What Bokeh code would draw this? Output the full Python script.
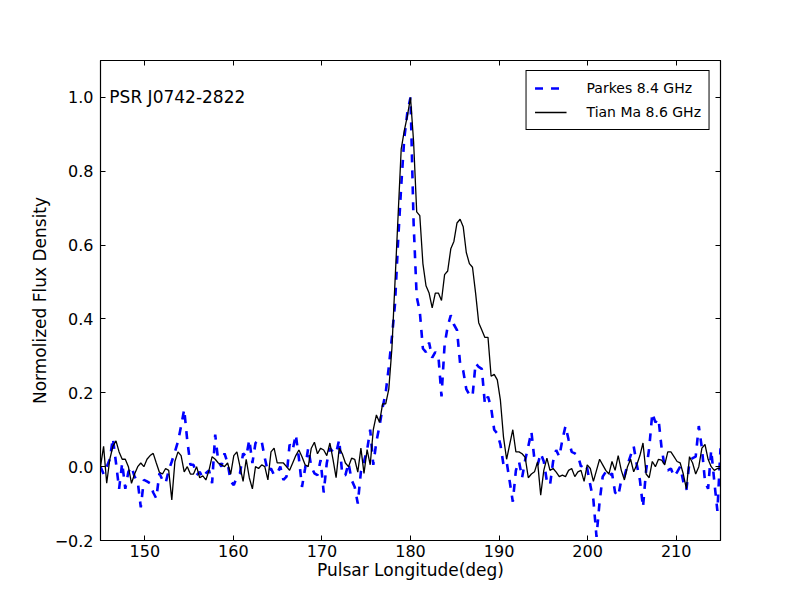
from bokeh.plotting import figure
from bokeh.models import Range1d, FixedTicker, LinearAxis, Legend, LegendItem, Label
from bokeh.embed import file_html
from bokeh.resources import INLINE

# ---- data ----
lon_start = 145.0          # first bin longitude (deg)
lon_step = 0.35            # bin width (deg)

parkes = [
    0.0, -0.02, 0.0, 0.02, 0.077, 0.01, -0.06, 0.01, -0.06, -0.014,
    0.0, -0.027, -0.04, -0.11, -0.036, -0.04, -0.045, -0.07, -0.086, -0.018,
    -0.036, -0.045, -0.01, 0.014, 0.04, 0.068, 0.11, 0.155, 0.07, 0.005,
    0.005, -0.023, -0.014, -0.03, -0.018, -0.01, -0.045, 0.087, 0.014, 0.0,
    0.036, 0.01, -0.04, -0.05, -0.027, -0.018, 0.036, 0.027, 0.073, 0.01,
    0.064, 0.073, 0.068, 0.023, -0.014, -0.005, -0.023, -0.018, 0.0, -0.036,
    -0.027, 0.06, 0.045, 0.087, 0.023, -0.055, -0.005, 0.05, 0.0, -0.018,
    -0.023, 0.018, -0.07, 0.01, 0.05, 0.04, 0.036, 0.073, -0.023, -0.023,
    0.01, -0.036, -0.055, -0.1, -0.014, 0.014, 0.045, 0.1, 0.005, 0.068,
    0.11, 0.16, 0.20, 0.27, 0.35, 0.44, 0.61, 0.76, 0.89, 0.96,
    1.0, 0.66, 0.46, 0.42, 0.32, 0.31, 0.336, 0.295, 0.31, 0.30,
    0.19, 0.33, 0.38, 0.41, 0.385, 0.37, 0.28, 0.26, 0.21, 0.195,
    0.19, 0.28, 0.27, 0.265, 0.17, 0.19, 0.16, 0.10, 0.09, 0.06,
    0.005, 0.014, -0.04, -0.095, -0.01, 0.014, -0.03, 0.018, 0.055, 0.095,
    0.018, 0.005, 0.036, 0.014, -0.04, -0.05, 0.014, 0.045, 0.027, 0.073,
    0.11, 0.073, 0.04, 0.036, 0.03, 0.0, 0.01, -0.005, -0.05, -0.09,
    -0.19, -0.095, -0.027, -0.014, -0.027, -0.018, -0.07, -0.08, -0.036, -0.027,
    0.005, 0.03, 0.055, 0.005, -0.036, -0.11, -0.01, 0.05, 0.145, 0.12,
    0.13, 0.05, 0.0, -0.01, -0.005, -0.027, -0.015, 0.0, -0.04, -0.063,
    0.014, 0.023, 0.027, 0.11, 0.05, -0.04, -0.06, 0.045, -0.04, -0.12,
    0.05,
]

tianma = [
    0.0, 0.055, -0.045, 0.02, 0.055, 0.07, 0.04, 0.02, 0.02, 0.0,
    -0.045, -0.02, 0.0, 0.01, 0.0, 0.02, 0.03, 0.036, 0.01, -0.015,
    -0.02, -0.005, -0.01, -0.09, 0.014, 0.04, 0.03, -0.014, 0.0, -0.02,
    -0.02, 0.0, -0.03, -0.025, -0.036, -0.01, 0.027, 0.02, 0.01, 0.005,
    0.0, 0.01, -0.02, 0.03, 0.04, 0.0, -0.04, 0.02, -0.03, -0.06,
    0.0, -0.005, 0.005, 0.0, -0.036, 0.04, 0.05, 0.01, 0.01, 0.01,
    0.0, -0.01, 0.01, 0.03, 0.045, 0.027, 0.005, 0.0, 0.05, 0.066,
    0.035, 0.05, 0.045, 0.03, 0.064, 0.02, -0.03, 0.05, 0.035, 0.01,
    0.0, 0.023, 0.02, -0.015, 0.05, -0.018, 0.046, 0.005, 0.1, 0.14,
    0.12, 0.17, 0.17, 0.21, 0.32, 0.50, 0.68, 0.86, 0.91, 0.95,
    1.0, 0.88, 0.69, 0.68, 0.55, 0.49, 0.47, 0.43, 0.47, 0.47,
    0.45, 0.52, 0.53, 0.59, 0.61, 0.66, 0.67, 0.65, 0.58, 0.55,
    0.54, 0.47, 0.39, 0.37, 0.35, 0.35, 0.245, 0.25, 0.235, 0.18,
    0.08, 0.02, 0.06, 0.10, 0.04, 0.04, 0.035, 0.025, -0.03, -0.02,
    -0.014, 0.013, -0.077, -0.01, 0.023, -0.01, -0.005, -0.015, -0.027, -0.023,
    -0.027, -0.01, -0.005, -0.027, -0.014, -0.01, -0.04, 0.005, -0.005, -0.04,
    -0.01, 0.02, 0.005, -0.01, -0.02, 0.014, -0.01, 0.03, -0.01, -0.036,
    0.0, 0.02, -0.014, 0.005, 0.03, 0.064, -0.02, -0.03, 0.014, 0.0,
    0.02, 0.018, 0.005, 0.04, 0.04, 0.027, 0.014, 0.01, -0.02, -0.06,
    0.027, 0.01, -0.02, 0.0, 0.05, 0.06, 0.02, 0.0, -0.01, -0.005,
    -0.005,
]

x_ticks = [150, 160, 170, 180, 190, 200, 210]
x_tick_labels = ["150", "160", "170", "180", "190", "200", "210"]
y_ticks = [-0.2, 0.0, 0.2, 0.4, 0.6, 0.8, 1.0]
y_tick_labels = ["\u22120.2", "0.0", "0.2", "0.4", "0.6", "0.8", "1.0"]

series_names = ["Parkes 8.4 GHz", "Tian Ma 8.6 GHz"]
pulsar_name = "PSR J0742-2822"
x_label = "Pulsar Longitude(deg)"
y_label = "Normolized Flux Density"

lon = [lon_start + lon_step * i for i in range(len(tianma))]

FONT = "DejaVu Sans"

p = figure(
    frame_width=620, frame_height=480,
    min_border_left=100, min_border_right=72,
    min_border_top=60, min_border_bottom=52,
    x_range=Range1d(145, 215), y_range=Range1d(-0.2, 1.1),
    output_backend="svg", toolbar_location=None,
    background_fill_color="white", border_fill_color="white",
)
p.xgrid.visible = False
p.ygrid.visible = False
p.outline_line_color = "black"
p.outline_line_width = 1.2
p.outline_line_alpha = 1.0

def style_axis(ax, ticks, labels, show_labels):
    ax.ticker = FixedTicker(ticks=ticks)
    if show_labels:
        ax.major_label_overrides = {t: l for t, l in zip(ticks, labels)}
    else:
        ax.major_label_overrides = {t: "" for t in ticks}
    ax.major_tick_in = 5
    ax.major_tick_out = 0
    ax.minor_tick_line_color = None
    ax.axis_line_color = "black"
    ax.major_tick_line_color = "black"
    ax.major_label_text_font = FONT
    ax.major_label_text_font_size = "16px"
    ax.major_label_text_color = "black"
    ax.major_label_standoff = 7
    ax.axis_label_text_font = FONT
    ax.axis_label_text_font_size = "17px"
    ax.axis_label_text_font_style = "normal"
    ax.axis_label_text_color = "black"

style_axis(p.xaxis[0], x_ticks, x_tick_labels, True)
style_axis(p.yaxis[0], y_ticks, y_tick_labels, True)
p.xaxis[0].axis_label = x_label
p.yaxis[0].axis_label = y_label
p.xaxis[0].major_label_standoff = 4
p.xaxis[0].axis_label_standoff = 0
p.yaxis[0].axis_label_standoff = 2

top_ax = LinearAxis()
style_axis(top_ax, x_ticks, x_tick_labels, False)
p.add_layout(top_ax, "above")
right_ax = LinearAxis()
style_axis(right_ax, y_ticks, y_tick_labels, False)
p.add_layout(right_ax, "right")

r_parkes = p.line(lon, parkes, line_color="#0000ff", line_width=2.6, line_dash="8 8")
r_tianma = p.line(lon, tianma, line_color="black", line_width=1.3)

legend = Legend(
    items=[LegendItem(label=series_names[0], renderers=[r_parkes]),
           LegendItem(label=series_names[1], renderers=[r_tianma])],
    location="top_right", margin=10, padding=8, spacing=6,
    glyph_width=32, glyph_height=18, label_height=18, label_standoff=20,
    label_text_font=FONT, label_text_font_size="14px", label_text_color="black",
    border_line_color="black", border_line_width=1, border_line_alpha=1.0,
    background_fill_color="white", background_fill_alpha=1.0,
)
p.add_layout(legend)

p.add_layout(Label(x=146.0, y=1.0, text=pulsar_name, text_font=FONT,
                   text_font_size="17px", text_color="black",
                   text_baseline="alphabetic"))

open("out.html", "w").write(file_html(p, INLINE))
